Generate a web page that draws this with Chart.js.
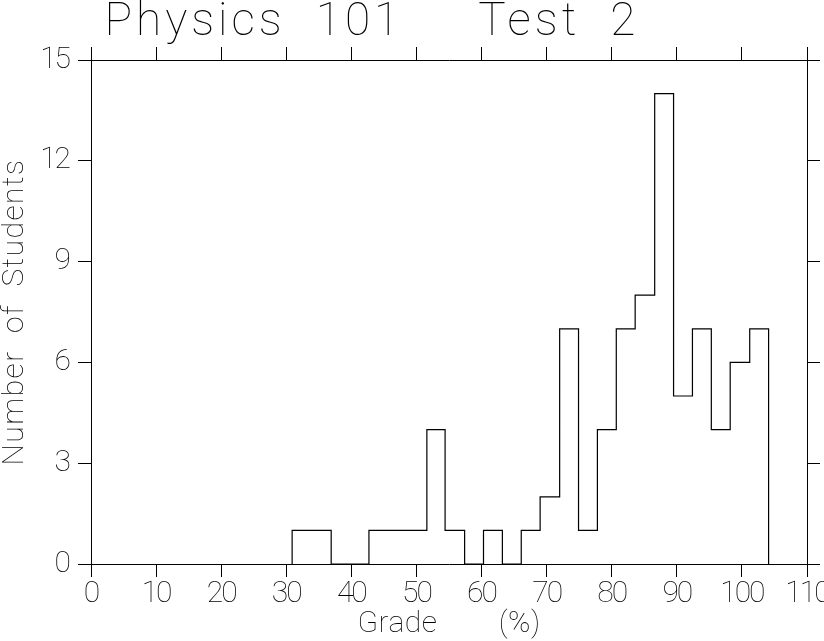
<!DOCTYPE html>
<html><head><meta charset="utf-8">
<script src="https://cdn.jsdelivr.net/npm/chart.js@4.4.1/dist/chart.umd.min.js"></script>
<style>html,body{margin:0;padding:0;background:#fff;}</style>
</head><body>
<canvas id="c" width="824" height="641"></canvas>
<script>
// Bin edges (grade %) and counts
const binEdges = [30.9, 33.8, 36.9, 39.8, 42.7, 45.7, 48.6, 51.6, 54.4, 57.4, 60.3, 63.2, 66.1,
                  69.0, 72.0, 74.9, 77.8, 80.7, 83.6, 86.6, 89.5, 92.4, 95.3, 98.2, 101.2, 104.1];
const studentCounts = [1, 1, 0, 0, 1, 1, 1, 4, 1, 0, 1, 0, 1,
                       2, 7, 1, 4, 7, 8, 14, 5, 7, 4, 6, 7];
const xTickValues = [0, 10, 20, 30, 40, 50, 60, 70, 80, 90, 100, 110];
const yTickValues = [0, 3, 6, 9, 12, 15];
const chartTitle = 'Physics  101     Test  2';
const xTitle = 'Grade        (%)';
const yTitle = 'Number  of  Students';

// step outline points built from the arrays
const stepPoints = [{x: binEdges[0], y: 0}]
  .concat(studentCounts.map((c, i) => ({x: binEdges[i], y: c})))
  .concat([{x: binEdges[binEdges.length - 1], y: 0}]);

const FONT = 'Roboto';
const tickFont = {family: FONT, size: 30, weight: '100', lineHeight: 1};
const setTicks = (vals) => (s) => { s.ticks = vals.map(v => ({value: v})); };
const noPad = (s) => { s.paddingLeft = 0; s.paddingRight = 0; s.paddingTop = 0; s.paddingBottom = 0; };

const spacingPlugin = {
  id: 'spacing',
  beforeDraw(chart) {
    const ctx = chart.ctx;
    const wrap = (obj, name, ls) => {
      if (!obj || obj['_w_' + name]) return;
      const orig = obj[name];
      obj[name] = function (...a) {
        ctx.save(); ctx.letterSpacing = ls;
        const r = orig.apply(this, a);
        ctx.restore(); return r;
      };
      obj['_w_' + name] = true;
    };
    wrap(chart.titleBlock, 'draw', '4px');
    wrap(chart.scales.x, 'drawLabels', '-2px');
    wrap(chart.scales.y, 'drawLabels', '-2px');
    wrap(chart.scales.x, 'drawTitle', '0.5px');
    wrap(chart.scales.y, 'drawTitle', '1.5px');
  }
};

const gridOpts = {drawOnChartArea: false, drawTicks: true, tickLength: 13, color: '#000', lineWidth: 1};
const borderOpts = {display: true, color: '#000', width: 1};

new Chart(document.getElementById('c'), {
  type: 'line',
  data: {
    datasets: [{
      data: stepPoints,
      stepped: 'before',
      borderColor: '#000',
      borderWidth: 1.2,
      pointRadius: 0,
      fill: false,
      tension: 0
    }]
  },
  options: {
    responsive: false,
    animation: false,
    devicePixelRatio: 1,
    layout: {padding: 0},
    plugins: {
      legend: {display: false},
      tooltip: {enabled: false},
      title: {
        display: true, text: '\u2009' + chartTitle, align: 'start', fullSize: false,
        color: '#000', font: {family: FONT, size: 46, weight: '100', lineHeight: 1},
        padding: {top: 0, bottom: 0}
      }
    },
    scales: {
      x: {
        type: 'linear', position: 'bottom',
        min: xTickValues[0], max: xTickValues[xTickValues.length - 1],
        afterBuildTicks: setTicks(xTickValues),
        afterFit: (s) => { s.height = 77; noPad(s); },
        grid: gridOpts, border: borderOpts,
        ticks: {color: '#000', font: tickFont, padding: 2, maxRotation: 0, autoSkip: false},
        title: {display: true, text: xTitle, color: '#000',
                font: {family: FONT, size: 30, weight: '100', lineHeight: 1.2}, padding: {top: 0, bottom: -1}}
      },
      x2: {
        type: 'linear', position: 'top',
        min: xTickValues[0], max: xTickValues[xTickValues.length - 1],
        afterBuildTicks: setTicks(xTickValues),
        afterFit: (s) => { s.height = 14; noPad(s); },
        grid: gridOpts, border: borderOpts,
        ticks: {display: false}
      },
      y: {
        type: 'linear', position: 'left',
        min: yTickValues[0], max: yTickValues[yTickValues.length - 1],
        afterBuildTicks: setTicks(yTickValues),
        afterFit: (s) => { s.width = 91; noPad(s); },
        grid: gridOpts, border: borderOpts,
        ticks: {color: '#000', font: tickFont, padding: 9, autoSkip: false},
        title: {display: true, text: yTitle, color: '#000',
                font: {family: FONT, size: 30, weight: '100', lineHeight: 1}, padding: {top: 0, bottom: 0}}
      },
      y2: {
        type: 'linear', position: 'right',
        min: yTickValues[0], max: yTickValues[yTickValues.length - 1],
        afterBuildTicks: setTicks(yTickValues),
        afterFit: (s) => { s.width = 17; noPad(s); },
        grid: gridOpts, border: borderOpts,
        ticks: {display: false}
      }
    }
  },
  plugins: [spacingPlugin]
});
</script>
</body></html>
